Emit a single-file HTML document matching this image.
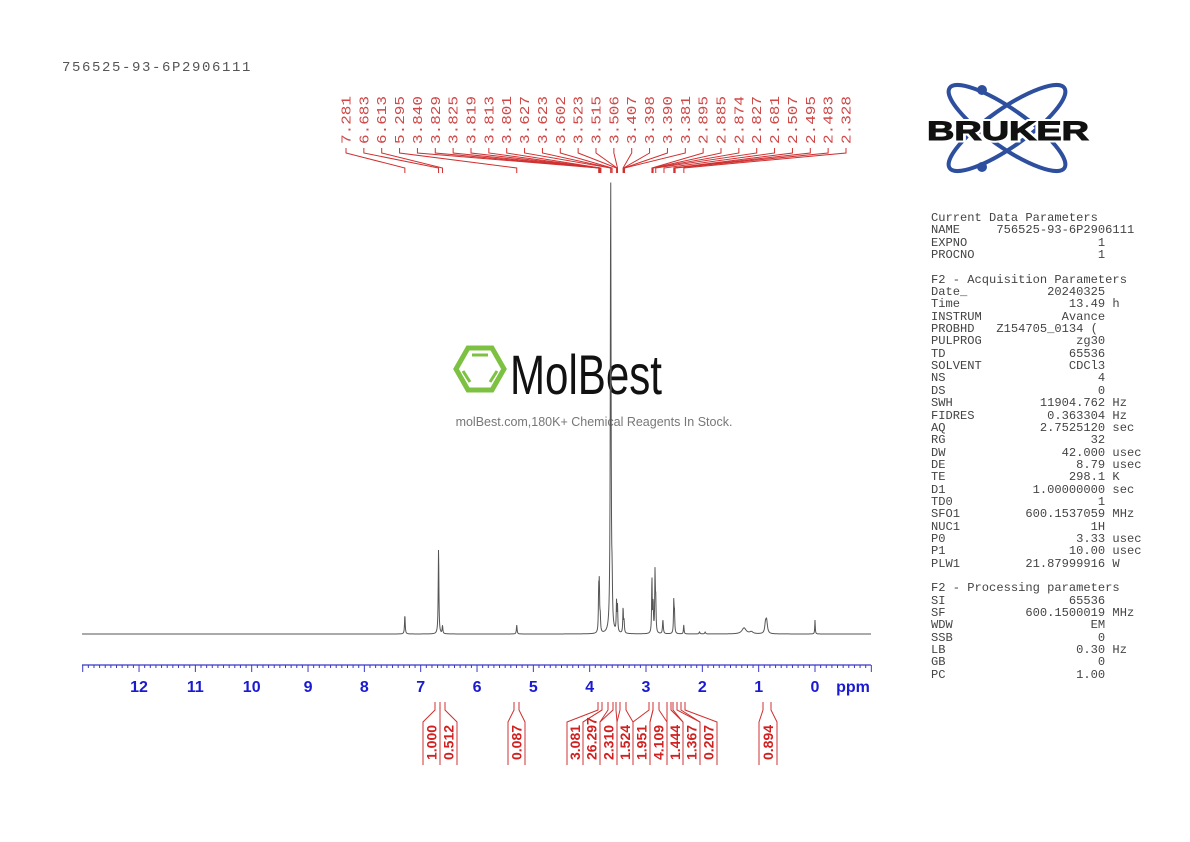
<!DOCTYPE html>
<html><head><meta charset="utf-8">
<style>
html,body{margin:0;padding:0;background:#fff;}
#wrap{position:relative;width:1190px;height:842px;overflow:hidden;background:#fff;}
pre{margin:0;}
#params{position:absolute;left:931px;top:212px;font-family:"Liberation Mono",monospace;font-size:12.1px;line-height:12.35px;color:#444;}
#title{position:absolute;left:62px;top:60px;font-family:"Liberation Mono",monospace;font-size:14px;letter-spacing:1.6px;color:#555;}
</style></head><body>
<div id="wrap">
<div id="title">756525-93-6P2906111</div>
<svg id="svg" width="1190" height="842" style="position:absolute;left:0;top:0">
 <g transform="translate(1007,128)">
  <ellipse cx="0" cy="0" rx="70" ry="19" transform="rotate(35)" fill="none" stroke="#2d4f9e" stroke-width="4"/>
  <ellipse cx="0" cy="0" rx="70" ry="19" transform="rotate(-35)" fill="none" stroke="#2d4f9e" stroke-width="4"/>
  <circle cx="-25" cy="-38" r="5" fill="#2d4f9e"/>
  <circle cx="-25" cy="39" r="5" fill="#2d4f9e"/>
 </g>
 <text x="1008" y="140" text-anchor="middle" font-family="Liberation Sans, sans-serif" font-weight="bold" font-size="27" fill="#fff" stroke="#fff" stroke-width="5" textLength="162" lengthAdjust="spacingAndGlyphs">BRUKER</text>
 <text x="1008" y="140" text-anchor="middle" font-family="Liberation Sans, sans-serif" font-weight="bold" font-size="27" fill="#111" stroke="#111" stroke-width="1" textLength="162" lengthAdjust="spacingAndGlyphs">BRUKER</text>
 <g transform="translate(480,369)">
  <polygon points="-24,0 -12,-21 12,-21 24,0 12,21 -12,21" fill="none" stroke="#7dc142" stroke-width="5"/>
  <line x1="-8" y1="-14" x2="8" y2="-14" stroke="#7dc142" stroke-width="3"/>
  <line x1="-17" y1="2" x2="-10" y2="13" stroke="#7dc142" stroke-width="3"/>
  <line x1="17" y1="2" x2="10" y2="13" stroke="#7dc142" stroke-width="3"/>
 </g>
 <text x="510" y="394" font-family="Liberation Sans, sans-serif" font-size="56" fill="#111" textLength="152" lengthAdjust="spacingAndGlyphs">MolBest</text>
 <text x="594" y="426" text-anchor="middle" font-family="Liberation Sans, sans-serif" font-size="12.5" fill="#777">molBest.com,180K+ Chemical Reagents In Stock.</text>
 <g id="g"></g>
</svg>
<pre id="params">Current Data Parameters
NAME     756525-93-6P2906111
EXPNO                  1
PROCNO                 1

F2 - Acquisition Parameters
Date_           20240325
Time               13.49 h
INSTRUM           Avance
PROBHD   Z154705_0134 (
PULPROG             zg30
TD                 65536
SOLVENT            CDCl3
NS                     4
DS                     0
SWH            11904.762 Hz
FIDRES          0.363304 Hz
AQ             2.7525120 sec
RG                    32
DW                42.000 usec
DE                  8.79 usec
TE                 298.1 K
D1            1.00000000 sec
TD0                    1
SFO1         600.1537059 MHz
NUC1                  1H
P0                  3.33 usec
P1                 10.00 usec
PLW1         21.87999916 W

F2 - Processing parameters
SI                 65536
SF           600.1500019 MHz
WDW                   EM
SSB                    0
LB                  0.30 Hz
GB                     0
PC                  1.00</pre>
</div>
<script>
var NS="http://www.w3.org/2000/svg";
var g=document.getElementById('g');
function el(t,a,txt){var e=document.createElementNS(NS,t);for(var k in a)e.setAttribute(k,a[k]);if(txt!==undefined)e.textContent=txt;g.appendChild(e);return e;}
function X(p){return 815-56.33*p;}
var peaks=[[7.281,19,.4],[6.683,85,.4],[6.613,8,.4],[5.295,9,.4],
[3.840,40,.35],[3.829,45,.35],[3.813,15,.4],[3.627,456,.45],[3.602,35,.4],[3.523,30,.35],[3.506,25,.35],
[3.407,25,.35],[3.390,12,.4],[2.895,55,.35],[2.874,30,.35],[2.840,60,.35],[2.827,30,.35],[2.70,14,.45],[2.507,32,.35],[2.495,20,.35],[2.33,9,.35],
[2.05,2,.5],[1.95,2,.5],[1.26,6,2.5],[1.13,2,2],[0.86,13,1.0],[0.88,8,.8],[0.0,14,.3]];
var d="";
for(var x=82;x<=871;x+=0.25){var y=634;for(var i=0;i<peaks.length;i++){var p=peaks[i],dx=x-X(p[0]),gm=p[2];y-=p[1]*gm*gm/(dx*dx+gm*gm);}
d+=(d?"L":"M")+x.toFixed(2)+","+y.toFixed(2);}
el('path',{d:d,fill:'none',stroke:'#555','stroke-width':1});
el('line',{x1:82,y1:665,x2:871,y2:665,stroke:'#3838c8','stroke-width':1.3});
for(var t=-10;t<=130;t++){var p=t/10,x=X(p);if(x<82||x>871.5)continue;var maj=(t%10===0);
el('line',{x1:x,y1:665,x2:x,y2:maj?672:668,stroke:'#3838c8','stroke-width':1});}
for(var n=0;n<=12;n++)el('text',{x:X(n),y:692,'text-anchor':'middle','font-family':'Liberation Sans, sans-serif','font-weight':'bold','font-size':16,fill:'#1a1ad0'},String(n));
el('text',{x:853,y:692,'text-anchor':'middle','font-family':'Liberation Sans, sans-serif','font-weight':'bold','font-size':16,fill:'#1a1ad0'},'ppm');
var labs=["7.281","6.683","6.613","5.295","3.840","3.829","3.825","3.819","3.813","3.801","3.627","3.623","3.602","3.523","3.515","3.506","3.407","3.398","3.390","3.381","2.895","2.885","2.874","2.827","2.681","2.507","2.495","2.483","2.328"];
var N=labs.length, sp=(846-346)/(N-1);
for(var i=0;i<N;i++){var lx=346+sp*i,px=X(parseFloat(labs[i]));
el('text',{x:0,y:0,transform:'translate('+(lx+4.5)+',144) rotate(-90)','font-family':'Liberation Mono, monospace','font-size':14,fill:'#d04848','textLength':48,'lengthAdjust':'spacingAndGlyphs'},labs[i]);
el('polyline',{points:lx+',148 '+lx+',153 '+px+',168 '+px+',173',fill:'none',stroke:'#d03030','stroke-width':1});}
var ints=[["1.000",423,440,435,440],["0.512",440,457,440,445],["0.087",508,525,514,519],["3.081",567,583,598,602],["26.297",583,600,602,608],["2.310",600,617,613,616],["1.524",617,633,620,626],["1.951",633,650,649,653],["4.109",650,667,653,659],["1.444",667,683,667,671],["1.367",683,700,673,677],["0.207",700,717,681,685],["0.894",759,777,763,771]];
ints.forEach(function(a){var l=a[1],r=a[2],p1=a[3],p2=a[4],c=(l+r)/2;
el('polyline',{points:p1+',702 '+p1+',710 '+l+',722 '+l+',765',fill:'none',stroke:'#d03030','stroke-width':1});
el('polyline',{points:p2+',702 '+p2+',710 '+r+',722 '+r+',765',fill:'none',stroke:'#d03030','stroke-width':1});
el('text',{x:0,y:0,transform:'translate('+(c+5)+',760) rotate(-90)','font-family':'Liberation Sans, sans-serif','font-weight':'bold','font-size':14,fill:'#d02020'},a[0]);});
</script>
</body></html>
